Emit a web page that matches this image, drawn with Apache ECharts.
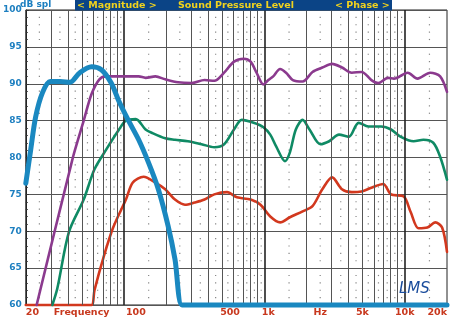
<!DOCTYPE html>
<html><head><meta charset="utf-8">
<script src="https://cdn.jsdelivr.net/npm/echarts@6/dist/echarts.min.js"></script>
<style>html,body{margin:0;padding:0;background:#fff}#c{width:450px;height:318px}</style>
</head><body><div id="c"></div>
<script>
// ---- data (frequency in Hz, level in dB spl) ----
const blueFreq = [20, 21.7, 23.5, 26.3, 29.9, 35.1, 41.3, 48.5, 58.8, 69.1, 81.2, 92.3, 108.5, 127.4, 149.7, 175.8, 206.5, 231, 259, 300, 20000];
const blueDb   = [76.5, 81.1, 85.5, 88.8, 90.3, 90.3, 90.2, 91.5, 92.3, 91.9, 90.1, 87.6, 84.9, 82.4, 79.3, 75.7, 70.7, 66.2, 60, 60, 60];

const purpleFreq = [23.9, 25.5, 32.4, 41.3, 44, 51.7, 58.8, 66.9, 74.9, 98.5, 127.4, 142.6, 167.6, 196.8, 242.6, 304, 375, 440, 517, 608, 714, 799, 880, 985, 1068, 1157, 1295, 1427, 1596, 1875, 2203, 2588, 3040, 3572, 4195, 4929, 5789, 6480, 7611, 8386, 10504, 12338, 15207, 17872, 20000];
const purpleDb   = [60, 62.2, 70.3, 78.4, 80.5, 85.0, 88.6, 90.6, 91, 91, 91, 90.8, 91.0, 90.6, 90.2, 90.1, 90.5, 90.4, 91.5, 93, 93.4, 93, 91.5, 89.9, 90.5, 91, 92, 91.5, 90.5, 90.3, 91.6, 92.2, 92.7, 92.2, 91.5, 91.6, 90.5, 90.1, 90.8, 90.7, 91.5, 90.7, 91.5, 91, 88.9];

const greenFreq = [30.9, 33.5, 40.6, 51.7, 61.7, 74.9, 92.3, 103.3, 121.4, 142.6, 159.7, 196.8, 231, 285, 357, 440, 517, 608, 691, 839, 985, 1102, 1214, 1404, 1521, 1676, 1875, 2098, 2506, 2896, 3404, 3997, 4695, 5515, 6801, 7990, 9386, 11570, 13590, 15962, 17872, 20000];
const greenDb   = [60, 62.2, 69.9, 74.3, 78.4, 81.1, 83.8, 85.0, 85.2, 83.8, 83.3, 82.6, 82.4, 82.2, 81.8, 81.4, 81.8, 83.8, 85.1, 84.7, 84.1, 83.1, 81.5, 79.5, 80.7, 83.8, 85.1, 83.8, 81.8, 82.2, 83.1, 82.8, 84.7, 84.2, 84.2, 83.8, 82.8, 82.2, 82.4, 82.0, 80.1, 77.0];

const redFreq = [20, 50, 58.8, 61.7, 71.4, 83.8, 103.3, 115.7, 138.1, 167.6, 196.8, 231, 272, 319, 375, 440, 543, 638, 799, 939, 1102, 1295, 1521, 1875, 2203, 2588, 3040, 3572, 4195, 4929, 5789, 7024, 7990, 9851, 11023, 12538, 14492, 16486, 18456, 20000];
const redDb   = [60, 60, 60, 62.0, 66.4, 70.5, 74.3, 76.6, 77.4, 76.6, 75.7, 74.3, 73.6, 73.9, 74.3, 75.0, 75.3, 74.6, 74.3, 73.6, 72.0, 71.2, 71.9, 72.7, 73.4, 75.7, 77.3, 75.7, 75.3, 75.4, 75.9, 76.4, 75.0, 74.7, 72.6, 70.4, 70.5, 71.2, 70.5, 67.2];

const xTickFreqs  = [20, 50, 100, 500, 1000, 2500, 5000, 10000, 20000];
const xTickLabels = ['20', 'Frequency', '100', '500', '1k', 'Hz', '5k', '10k', '20k'];
const yTicks = [60, 65, 70, 75, 80, 85, 90, 95, 100];
const gridFreqs = [30, 40, 50, 60, 70, 80, 90, 100, 200, 300, 400, 500, 600, 700, 800, 900, 1000, 2000, 3000, 4000, 5000, 6000, 7000, 8000, 9000, 10000];
const decadeFreqs = [100, 1000, 10000];
const dotFreqs = [25, 35, 45, 55, 65, 75, 85, 95, 150, 250, 350, 450, 550, 650, 750, 850, 950, 1500, 2500, 3500, 4500, 5500, 6500, 7500, 8500, 9500, 15000];

const headerTexts = ['< Magnitude >', 'Sound Pressure Level', '< Phase >'];
const yUnit = 'dB spl';
const signature = 'LMS';

// ---- build ----
const L = Math.log10;
const pts = (f, d) => f.map((v, i) => [L(v), d[i]]);
const dotPts = [];
dotFreqs.forEach(f => { for (let d = 61; d < 100; d++) { if (d % 5) dotPts.push([L(f), d]); } });

const labelShift = {'100': 24, '500': 16, '1k': 8};
const rich = {};
Object.keys(labelShift).forEach((k, i) => { rich['s' + i] = {padding: [0, 0, 0, labelShift[k]], color: '#c8381e', fontFamily: 'DejaVu Sans', fontWeight: 'bold', fontSize: 9.5}; });

const chart = echarts.init(document.getElementById('c'), null, {renderer: 'canvas'});
const curve = (data, color, w, z) => ({type: 'line', data, showSymbol: false, smooth: 0.3, clip: false, z,
  lineStyle: {color, width: w, cap: 'round', join: 'round'}, silent: true, animation: false});

chart.setOption({
  animation: false,
  backgroundColor: '#ffffff',
  grid: {left: 18, right: 2, top: 10, bottom: 12, show: true, borderColor: '#222', borderWidth: 1, backgroundColor: 'transparent'},
  xAxis: {
    type: 'value', min: L(20), max: L(20000),
    axisLine: {show: false}, axisTick: {show: false}, splitLine: {show: false},
    axisLabel: {
      customValues: xTickFreqs.map(L), showMinLabel: true, showMaxLabel: true,
      alignMinLabel: 'left', alignMaxLabel: 'right', margin: 3,
      color: '#c8381e', fontFamily: 'DejaVu Sans', fontWeight: 'bold', fontSize: 9.5,
      formatter: v => {
        const i = xTickFreqs.findIndex(f => Math.abs(L(f) - v) < 1e-6);
        const t = i >= 0 ? xTickLabels[i] : '';
        const k = Object.keys(labelShift).indexOf(t);
        return k >= 0 ? '{s' + k + '|' + t + '}' : t;
      },
      rich
    }
  },
  yAxis: {
    type: 'value', min: 60, max: 100, interval: 5,
    axisLine: {show: true, lineStyle: {color: '#222'}},
    axisTick: {show: true, inside: true, length: 3, lineStyle: {color: '#333'}},
    minorTick: {show: true, splitNumber: 5, length: 2, lineStyle: {color: '#333'}},
    splitLine: {show: true, lineStyle: {color: '#555', width: 1.2}},
    axisLabel: {margin: 4, color: '#1d7fc0', fontFamily: 'DejaVu Sans', fontWeight: 'bold', fontSize: 9,
      showMinLabel: true, showMaxLabel: true, formatter: v => yTicks.includes(v) ? String(v) : ''}
  },
  series: [
    {type: 'scatter', data: dotPts, symbol: 'rect', symbolSize: 1.2, itemStyle: {color: '#666'}, silent: true, z: 1},
    {type: 'line', data: [], silent: true, z: 1,
      markLine: {symbol: 'none', silent: true, label: {show: false}, animation: false,
        lineStyle: {color: '#555', width: 1, type: 'solid'},
        data: gridFreqs.map(f => ({xAxis: L(f), lineStyle: decadeFreqs.includes(f) ? {color: '#222', width: 1.6, type: 'solid'} : {color: '#555', width: 1, type: 'solid'}}))}},
    curve(pts(redFreq, redDb), '#d2381e', 2.6, 3),
    curve(pts(greenFreq, greenDb), '#0f8a64', 2.6, 4),
    curve(pts(purpleFreq, purpleDb), '#8b3a8e', 2.6, 5),
    curve(pts(blueFreq, blueDb), '#1a88c0', 5, 6)
  ],
  graphic: [
    {type: 'rect', left: 75, top: 0, shape: {width: 317, height: 10.5}, style: {fill: '#0b4486'}, z: 10},
    {type: 'text', left: 77, top: 0.5, z: 11, style: {text: headerTexts[0], fill: '#f0d21e', font: 'bold 9.5px "DejaVu Sans"'}},
    {type: 'text', left: 178, top: 0.5, z: 11, style: {text: headerTexts[1], fill: '#f0d21e', font: 'bold 9.5px "DejaVu Sans"'}},
    {type: 'text', left: 335, top: 0.5, z: 11, style: {text: headerTexts[2], fill: '#f0d21e', font: 'bold 9.5px "DejaVu Sans"'}},
    {type: 'text', left: 20, top: 0, z: 11, style: {text: yUnit, fill: '#1d7fc0', font: 'bold 9px "DejaVu Sans"'}},
    {type: 'text', left: 399, top: 282, z: 11, style: {text: signature, fill: '#1a4c9c', font: 'italic 15px "DejaVu Sans"'}}
  ]
});
</script></body></html>
